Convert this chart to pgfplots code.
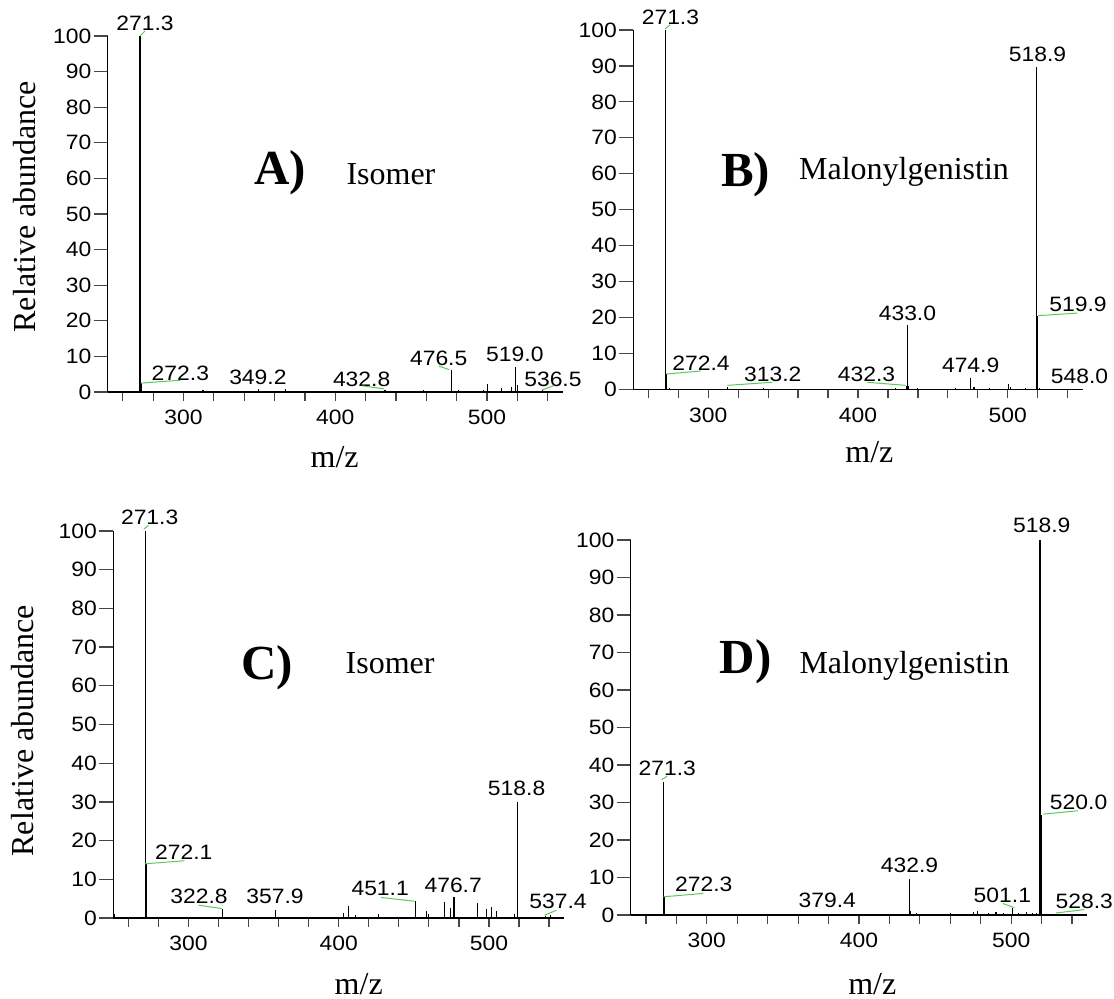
\documentclass[border=0pt]{standalone}
\usepackage{fontspec}
\setmainfont{Liberation Serif}
\setsansfont{Liberation Sans}[FakeStretch=1.1]
\usepackage{pgfplots}
\pgfplotsset{compat=1.18}
\definecolor{glab}{RGB}{90,200,90}
\definecolor{axgray}{RGB}{70,70,70}
\newcommand{\lf}{\fontsize{10.4}{12}\selectfont\sffamily}
\newcommand{\pk}[3]{\node[font=\lf,inner sep=0pt] at (axis cs:#1,#2) {#3};}
\newcommand{\gl}[4]{\draw[glab,line width=0.5pt] (axis cs:#1,#2) -- (axis cs:#3,#4);}
\pgfplotsset{
 msstyle/.style={
  scale only axis, axis x line=bottom, axis y line=left,
  axis line style={-, draw=black, line width=0.6pt},
  xmin=250, xmax=550, ymin=0, ymax=100,
  xtick={300,400,500}, minor xtick={260,280,...,540},
  ytick={0,10,...,100},
  tick align=outside, xtick align=outside, ytick align=outside,
  major tick length=7pt, minor tick length=4.5pt,
  every major x tick/.append style={draw=none},
  every minor tick/.append style={draw=axgray, line width=0.6pt},
  ytick style={draw=axgray, line width=0.6pt},
  ticklabel style={font=\lf},
  /pgf/number format/assume math mode=true,
  xticklabel style={inner sep=2pt},
  yticklabel style={inner sep=1pt},
  clip=false,
  anchor=south west,
 },
 peaks/.style={ycomb, black, line width=0.55pt, mark=none},
}
\begin{document}
\begin{tikzpicture}
\useasboundingbox (0,0) rectangle (557pt,-499.5pt);
% ---------------- A ----------------
\begin{axis}[msstyle, at={(53.85pt,-196pt)}, width=227.55pt, height=178pt]
\addplot[peaks] coordinates {
(271.3,100) (272.3,2.5) (312.8,0.6) (316.3,0.3) (349.2,0.9) (367.3,0.8) (373,0.3) (381.2,0.3) (384,0.3)
(401,0.2) (404.2,0.3) (408.6,0.3) (415.2,0.3) (425.1,0.3) (432.8,0.5) (441.6,0.4) (447.1,0.4)
(454.8,0.4) (458,0.5) (466.9,0.3) (470.2,0.4) (476.5,6.3) (481.1,0.5) (488.8,0.4) (497.6,0.6)
(500.5,2.3) (509.7,1.0) (515.9,1.4) (519.0,7.0) (520.2,2.0) (522.9,0.4) (536.5,0.5) (540,0.3)};
\pk{274.6}{103.6}{271.3} \gl{271.3}{100}{274.6}{101.4}
\pk{297.9}{5.3}{272.3} \gl{271.9}{2.5}{297.9}{3.3}
\pk{349}{4.1}{349.2}
\pk{417.4}{3.65}{432.8} \gl{417.8}{1.74}{432.3}{0.87}
\pk{468.2}{9.33}{476.5} \gl{468.4}{7.25}{475.1}{6.3}
\pk{518.4}{10.56}{519.0}
\pk{543.5}{3.46}{536.5} \gl{536.4}{0.6}{544.2}{1.8}
\end{axis}
% ---------------- B ----------------
\begin{axis}[msstyle, at={(316.65pt,-194.65pt)}, width=224.7pt, height=179.65pt]
\addplot[peaks] coordinates {
(271.3,100) (272.4,4.2) (274,0.5) (290,0.2) (298,0.2) (312.8,0.6) (320,0.2) (337.2,0.3) (352,0.2)
(365,0.2) (380,0.2) (395,0.2) (410,0.2) (425,0.3) (432.3,1.0) (433.0,18) (434,1.0) (440,0.3)
(455,0.2) (465,0.3) (474.9,3.2) (477.4,0.6) (488,0.3) (500.5,1.4) (501.5,0.6) (512,0.3)
(518.9,89.6) (519.9,20.4) (521,0.5) (548.0,0.2)};
\pk{274.8}{103.5}{271.3} \gl{271.2}{100.3}{274.5}{101.4}
\pk{519.8}{93.2}{518.9}
\pk{295.2}{7.24}{272.4} \gl{272.3}{4.26}{295}{5.1}
\pk{343.1}{4.26}{313.2} \gl{312.8}{1.1}{342.8}{1.95}
\pk{405.7}{4.26}{432.3} \gl{406.2}{1.95}{431.8}{1.1}
\pk{475.2}{6.76}{474.9}
\pk{433}{21.1}{433.0}
\pk{546.9}{23.6}{519.9} \gl{520.2}{20.5}{546.4}{21.2}
\pk{547.9}{3.5}{548.0}
\end{axis}
% ---------------- C ----------------
\begin{axis}[msstyle, at={(56.65pt,-459pt)}, width=225.4pt, height=193.5pt]
\addplot[peaks] coordinates {
(251,1.0) (271.3,100) (272.1,14) (322.8,2.3) (357.9,2.1) (403.3,1.3) (406.5,3.1) (411.3,0.8)
(421.6,0.3) (426.5,1.1) (451.1,4.5) (458.5,1.8) (460,1.0) (470.5,4.2) (474.5,2.5) (476.7,5.3)
(492.3,3.9) (498.5,2.3) (501.6,2.9) (505,1.8) (517,1.0) (518.8,29.9) (537.4,0.5) (540.7,0.7)};
\pk{274.2}{103.6}{271.3} \gl{270.3}{100.5}{273.4}{101.4}
\pk{296.9}{17.0}{272.1} \gl{271.0}{14.0}{297.3}{14.8}
\pk{307.1}{5.48}{322.8} \gl{306.8}{3.3}{322.2}{2.43}
\pk{357.6}{5.48}{357.9}
\pk{427.6}{7.65}{451.1} \gl{428.2}{5.3}{450.3}{4.34}
\pk{476.2}{8.53}{476.7}
\pk{518.4}{33.4}{518.8}
\pk{546}{4.2}{537.4} \gl{537}{0.7}{544.9}{2.0}
\end{axis}
% ---------------- D ----------------
\begin{axis}[msstyle, at={(315.35pt,-457.5pt)}, width=228.3pt, height=187.5pt]
\addplot[peaks] coordinates {
(271.3,35.6) (272.3,4.8) (285,0.2) (300,0.2) (315,0.2) (330,0.2) (345,0.2) (360,0.2) (379.4,0.3)
(395,0.2) (410,0.2) (425,0.3) (432.9,9.7) (433.8,1.0) (438,0.5) (445,0.4) (452,0.4) (460,0.5)
(468,0.4) (475,0.8) (478,1.0) (485,0.6) (490,0.7) (495,0.5) (501.1,1.9) (505,0.6) (510,0.7)
(514,0.5) (516.5,0.6) (518.9,100) (520.0,26.8) (528.3,0.4)};
\pk{520.1}{103.8}{518.9}
\pk{274}{39.2}{271.3} \gl{270.4}{36.1}{273.9}{37}
\pk{298}{8.19}{272.3} \gl{271.5}{4.85}{297.8}{5.76}
\pk{379.2}{3.95}{379.4}
\pk{433.2}{13.2}{432.9}
\pk{494.2}{5.12}{501.1} \gl{494.5}{3.07}{501.9}{1.97}
\pk{544.3}{30.05}{520.0} \gl{521.2}{26.9}{543.8}{27.8}
\pk{548}{3.68}{528.3} \gl{529.4}{0.53}{548}{1.44}
\end{axis}
% ---------------- texts ----------------
\begin{scope}[every node/.style={inner sep=0pt}]
\node[anchor=base,font=\fontsize{24.5}{28}\selectfont\bfseries] at (139.95pt,-92.5pt) {A)};
\node[anchor=base west,font=\fontsize{16}{19}\selectfont] at (173.05pt,-92.5pt) {Isomer};
\node[anchor=base,font=\fontsize{24.5}{28}\selectfont\bfseries] at (372.8pt,-93.3pt) {B)};
\node[anchor=base west,font=\fontsize{16}{19}\selectfont] at (399.35pt,-89.65pt) {Malonylgenistin};
\node[anchor=base,font=\fontsize{24.5}{28}\selectfont\bfseries] at (133.5pt,-340pt) {C)};
\node[anchor=base west,font=\fontsize{16}{19}\selectfont] at (172.65pt,-337pt) {Isomer};
\node[anchor=base,font=\fontsize{24.5}{28}\selectfont\bfseries] at (372.8pt,-337pt) {D)};
\node[anchor=base west,font=\fontsize{16}{19}\selectfont] at (399.55pt,-337pt) {Malonylgenistin};
\node[anchor=base,font=\fontsize{16}{19}\selectfont] at (167.3pt,-234pt) {m/z};
\node[anchor=base,font=\fontsize{16}{19}\selectfont] at (434.7pt,-231.5pt) {m/z};
\node[anchor=base,font=\fontsize{16}{19}\selectfont] at (179.35pt,-497pt) {m/z};
\node[anchor=base,font=\fontsize{16}{19}\selectfont] at (436.15pt,-497pt) {m/z};
\node[anchor=base,rotate=90,font=\fontsize{16}{19}\selectfont] at (17.75pt,-103.35pt) {Relative abundance};
\node[anchor=base,rotate=90,font=\fontsize{16}{19}\selectfont] at (16.9pt,-365.35pt) {Relative abundance};
\end{scope}
\end{tikzpicture}
\end{document}
